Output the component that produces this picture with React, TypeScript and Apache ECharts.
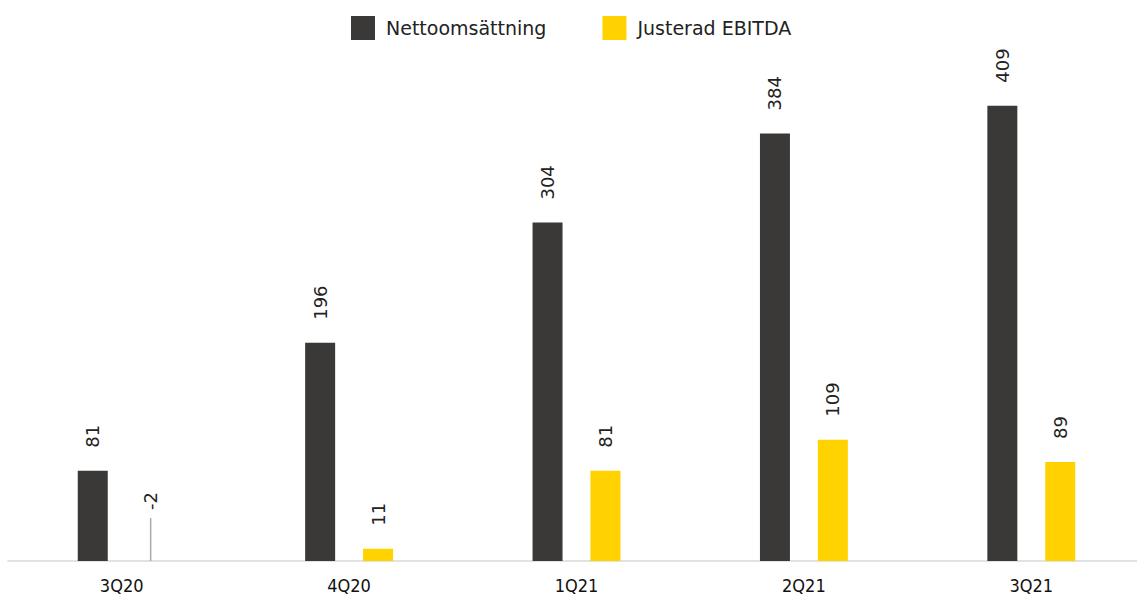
import React, { useEffect, useRef } from "react";
import * as echarts from "echarts";

const categories = ["3Q20", "4Q20", "1Q21", "2Q21", "3Q21"];
const nettoomsattning = [81, 196, 304, 384, 409];
const justeradEbitda = [-2, 11, 81, 109, 89];

export default function App() {
  const ref = useRef<HTMLDivElement>(null);
  useEffect(() => {
    if (!ref.current) return;
    const chart = echarts.init(ref.current, undefined, { renderer: "svg" });
    const labelBase = {
      show: true,
      position: "top" as const,
      rotate: 90,
      align: "left" as const,
      verticalAlign: "middle" as const,
      distance: 23,
      fontSize: 18,
      color: "#222",
      fontFamily: "DejaVu Sans",
    };
    const ebitdaData = justeradEbitda.map((v) =>
      v < 0
        ? {
            value: v,
            label: {
              position: "top" as const,
              distance: 43,
              padding: [0, 0, 0, 8],
              backgroundColor: "rgba(255,255,255,0)",
            },
            labelLine: { show: true, lineStyle: { color: "#aaa", width: 1.5 } },
          }
        : v
    );
    chart.setOption({
      animation: false,
      textStyle: { fontFamily: "DejaVu Sans" },
      legend: {
        top: 11,
        left: 346,
        itemWidth: 24,
        itemHeight: 24,
        itemGap: 56,
        icon: "rect",
        textStyle: { fontSize: 19, color: "#222", fontFamily: "DejaVu Sans", padding: [0, 0, 0, 6] },
        data: ["Nettoomsättning", "Justerad EBITDA"],
      },
      grid: { left: 8, width: 1137, top: 60, bottom: 36, containLabel: false, outerBoundsMode: "none" },
      xAxis: {
        type: "category",
        data: categories,
        z: 0,
        axisLine: { lineStyle: { color: "#d9d9d9", width: 1.6 } },
        axisTick: { show: false },
        axisLabel: { fontSize: 18, color: "#111", margin: 15, fontFamily: "DejaVu Sans Condensed" },
      },
      yAxis: { type: "value", min: 0, max: 450, show: false, splitLine: { show: false } },
      series: [
        {
          name: "Nettoomsättning",
          type: "bar",
          data: nettoomsattning,
          barWidth: 30,
          barGap: "93%",
          itemStyle: { color: "#3a3937" },
          label: labelBase,
        },
        {
          name: "Justerad EBITDA",
          type: "bar",
          data: ebitdaData,
          barWidth: 30,
          barMinHeight: 3,
          z: 5,
          itemStyle: { color: "#ffd200" },
          label: labelBase,
          labelLine: { show: false, length2: 0, smooth: false },
        },
      ],
    });
    return () => chart.dispose();
  }, []);
  return (
    <div
      ref={ref}
      style={{ position: "absolute", left: 0, top: 0, width: 1137, height: 597, background: "#fff" }}
    />
  );
}
